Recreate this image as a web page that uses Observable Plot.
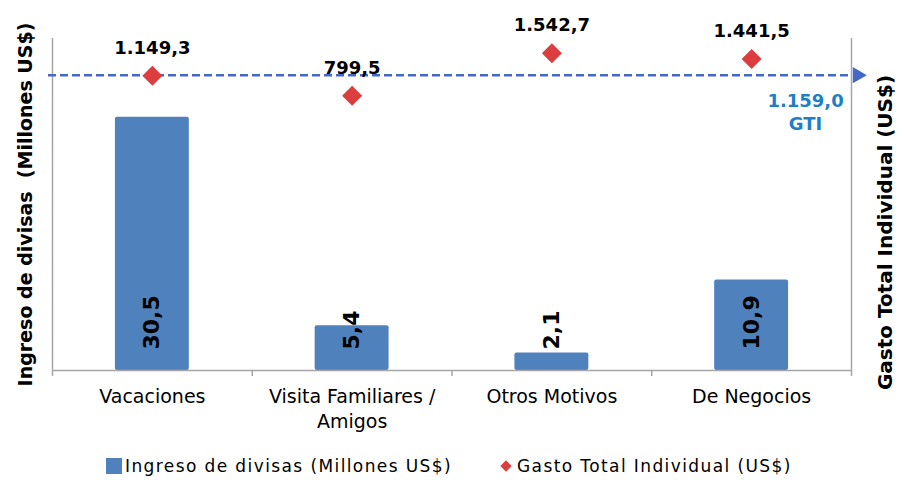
<!DOCTYPE html>
<html><head><meta charset="utf-8">
<script src="https://cdn.jsdelivr.net/npm/d3@7"></script>
<script src="https://cdn.jsdelivr.net/npm/@observablehq/plot@0.6"></script>
<style>
body{margin:0;background:#fff;font-family:"DejaVu Sans",Verdana,sans-serif;}
#chart svg{display:block;}
#legend{height:40px;position:relative;font-size:17px;color:#000;letter-spacing:1.4px;}
.item{position:absolute;top:16px;display:flex;align-items:center;}
.sq{width:16px;height:16px;background:#4f81bd;margin-right:3px;}
.dm{width:8px;height:8px;background:#dc3d3f;transform:rotate(45deg);margin-right:7px;margin-left:2px;}
</style></head><body><div id="chart"></div><div id="legend"></div><script>
const categories = ["Vacaciones", "Visita Familiares /\nAmigos", "Otros Motivos", "De Negocios"];
const ingreso = [30.5, 5.4, 2.1, 10.9];
const ingresoLabels = ["30,5", "5,4", "2,1", "10,9"];
const gasto = [1149.3, 799.5, 1542.7, 1441.5];
const gastoLabels = ["1.149,3", "799,5", "1.542,7", "1.441,5"];
const gti = 1159.0;
const gtiLabel = "1.159,0\nGTI";
const seriesNames = ["Ingreso de divisas (Millones US$)", "Gasto Total Individual (US$)"];
const leftTitle = "Ingreso de divisas \u00a0(Millones US$)";
const rightTitle = "Gasto Total Individual (US$)";
const leftDomain = [0, 40];
const rightDomain = [-4000, 1800];

const toLeft = v => (v - rightDomain[0]) / (rightDomain[1] - rightDomain[0]) * (leftDomain[1] - leftDomain[0]) + leftDomain[0];
const rows = categories.map((c, i) => ({i, cat: c, ingreso: ingreso[i], il: ingresoLabels[i], gasto: gasto[i], gl: gastoLabels[i]}));

const font = "DejaVu Sans, Verdana, sans-serif";
const axisColor = "#a6a6a6";
const plot = Plot.plot({
  width: 904, height: 440,
  marginLeft: 52, marginRight: 53, marginTop: 38, marginBottom: 70,
  style: {fontFamily: font, background: "#fff", color: "#000"},
  x: {domain: [0, categories.length], ticks: categories.length, tickFormat: () => "", tickSize: 6, label: null},
  y: {domain: leftDomain, axis: null},
  marks: [
    Plot.rectY(rows, {x1: d => d.i + 0.315, x2: d => d.i + 0.685, y1: 0, y2: "ingreso", fill: "#4f81bd", rx: 2}),
    Plot.ruleY([0], {stroke: axisColor, strokeWidth: 1.5}),
    Plot.ruleX([0, categories.length], {y1: 0, y2: leftDomain[1], stroke: axisColor, strokeWidth: 1.5}),
    Plot.text(rows, {x: d => d.i + 0.5, y: 0, text: "il", rotate: -90, textAnchor: "start", dy: -21, fontWeight: "bold", fontSize: 22, fill: "#000", letterSpacing: "4px"}),
    Plot.text(rows, {x: d => d.i + 0.5, y: 0, text: "cat", lineAnchor: "top", dy: 15, fontSize: 19, lineHeight: 1.3, fill: "#000", letterSpacing: "1.5px"}),
    Plot.ruleY([gti], {y: toLeft, x1: -0.02, x2: categories.length - 0.01, stroke: "#4468c8", strokeWidth: 2.5, strokeDasharray: "8,4"}),
    Plot.dot([gti], {y: toLeft, x: categories.length + 0.03, symbol: "triangle", rotate: 90, r: 6, fill: "#4468c8", stroke: "none"}),
    Plot.text([gti], {y: toLeft, x: 3.77, text: () => gtiLabel, lineAnchor: "top", dy: 15, lineHeight: 1.3, fontWeight: "bold", fontSize: 18, fill: "#1e7fc6", letterSpacing: "3.6px"}),
    Plot.dot(rows, {x: d => d.i + 0.5, y: d => toLeft(d.gasto), symbol: "diamond2", r: 9, fill: "#dc3d3f"}),
    Plot.text(rows, {x: d => d.i + 0.5, y: d => toLeft(d.gasto), text: "gl", dy: -28, fontWeight: "bold", fontSize: 18, fill: "#000", letterSpacing: "3.6px"}),
    Plot.text([leftTitle], {frameAnchor: "left", textAnchor: "middle", dx: -27, rotate: -90, text: d => d, fontWeight: "bold", fontSize: 19, fill: "#000", letterSpacing: "0px"}),
    Plot.text([rightTitle], {frameAnchor: "right", textAnchor: "middle", dx: 34, dy: 28, rotate: -90, text: d => d, fontWeight: "bold", fontSize: 20, fill: "#000", letterSpacing: "1.8px"})
  ]
});
plot.querySelectorAll("[aria-label='x-axis'] path, [aria-label='x-axis tick'] path").forEach(p => { p.setAttribute("stroke", axisColor); p.setAttribute("stroke-width", "1.5"); });
document.getElementById("chart").appendChild(plot);

const legend = document.getElementById("legend");
legend.innerHTML = `<div class="item" style="left:106px"><div class="sq"></div><span>${seriesNames[0]}</span></div>` +
  `<div class="item" style="left:500px"><div class="dm"></div><span>${seriesNames[1]}</span></div>`;
</script></body></html>
